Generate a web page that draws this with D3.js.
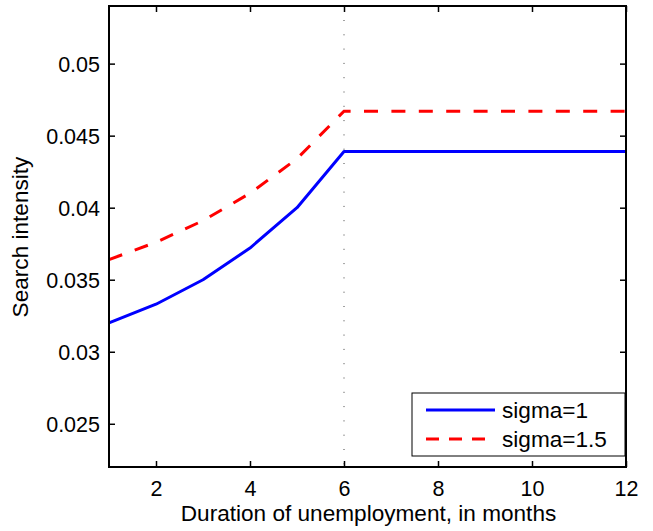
<!DOCTYPE html>
<html>
<head>
<meta charset="utf-8">
<script src="https://cdn.jsdelivr.net/npm/d3@7"></script>
<style>
  html, body { margin: 0; padding: 0; background: #fff; }
  svg { display: block; font-family: "Liberation Sans", Arial, Helvetica, sans-serif; }
</style>
</head>
<body>
<svg id="chart" width="653" height="531"></svg>
<script>
// Duration of unemployment (months)
const months = [1, 2, 3, 4, 5, 6, 7, 8, 9, 10, 11, 12];
// Search intensity by risk-aversion parameter
const sigma1  = [0.0320, 0.0333, 0.0350, 0.0372, 0.0400, 0.0439, 0.0439, 0.0439, 0.0439, 0.0439, 0.0439, 0.0439];
const sigma15 = [0.0364, 0.0376, 0.0391, 0.0410, 0.0434, 0.0467, 0.0467, 0.0467, 0.0467, 0.0467, 0.0467, 0.0467];
const seriesNames = ["sigma=1", "sigma=1.5"];
const xTicks = [2, 4, 6, 8, 10, 12];
const yTicks = [0.025, 0.03, 0.035, 0.04, 0.045, 0.05];
const benefitEnd = 6;

const svg = d3.select("#chart");
const L = 109, R = 626, T = 6, B = 467;

const x = d3.scaleLinear().domain([1, 12]).range([L, R]);
const y = d3.scaleLinear().domain([0.022, 0.054]).range([B, T]);

const tickFmt = d => String(+d.toFixed(3));

// Dotted marker where benefits expire
svg.append("line")
  .attr("x1", x(benefitEnd)).attr("x2", x(benefitEnd))
  .attr("y1", T + 14).attr("y2", B)
  .attr("stroke", "#444").attr("stroke-width", 1)
  .attr("stroke-dasharray", "1,13.3");

// Series
const line = d3.line().x((d, i) => x(months[i])).y(d => y(d));
svg.append("path").datum(sigma1)
  .attr("d", line).attr("fill", "none")
  .attr("stroke", "#0000ff").attr("stroke-width", 3)
  .attr("stroke-linejoin", "round");
svg.append("path").datum(sigma15)
  .attr("d", line).attr("fill", "none")
  .attr("stroke", "#ff0000").attr("stroke-width", 3)
  .attr("stroke-dasharray", "14,13.4");

// Axes with inward ticks on all four sides
const tickLen = 6;
const tickFont = 21.5;
const labelFont = 22.6;

const axBottom = svg.append("g").attr("transform", `translate(0,${B})`)
  .call(d3.axisBottom(x).tickValues(xTicks).tickSize(-tickLen).tickPadding(0).tickFormat(d3.format("d")));
axBottom.selectAll("text").attr("y", 29).attr("dy", null).attr("font-size", tickFont).attr("fill", "#000");

const axTop = svg.append("g").attr("transform", `translate(0,${T})`)
  .call(d3.axisTop(x).tickValues(xTicks).tickSize(-tickLen).tickFormat(""));

const axLeft = svg.append("g").attr("transform", `translate(${L},0)`)
  .call(d3.axisLeft(y).tickValues(yTicks).tickSize(-tickLen).tickFormat(tickFmt));
axLeft.selectAll("text").attr("x", -9).attr("dy", "0.35em").attr("font-size", tickFont).attr("fill", "#000");

const axRight = svg.append("g").attr("transform", `translate(${R},0)`)
  .call(d3.axisRight(y).tickValues(yTicks).tickSize(-tickLen).tickFormat(""));

[axBottom, axTop, axLeft, axRight].forEach(g => {
  g.select(".domain").remove();
  g.selectAll(".tick line").attr("stroke", "#000").attr("stroke-width", 1.5);
});

// Axes box
svg.append("rect")
  .attr("x", L).attr("y", T).attr("width", R - L).attr("height", B - T)
  .attr("fill", "none").attr("stroke", "#000").attr("stroke-width", 2);

// Axis titles
svg.append("text")
  .attr("x", 368.5).attr("y", 521)
  .attr("text-anchor", "middle").attr("font-size", labelFont)
  .text("Duration of unemployment, in months");
svg.append("text")
  .attr("transform", "translate(28,237) rotate(-90)")
  .attr("text-anchor", "middle").attr("font-size", labelFont)
  .text("Search intensity");

// Legend
const lg = svg.append("g");
lg.append("rect")
  .attr("x", 412).attr("y", 393).attr("width", 213).attr("height", 63)
  .attr("fill", "#fff").attr("stroke", "#000").attr("stroke-width", 1);
const legendRows = [
  { name: seriesNames[0], color: "#0000ff", dash: null, ly: 410 },
  { name: seriesNames[1], color: "#ff0000", dash: "13,10", ly: 439 }
];
legendRows.forEach(r => {
  lg.append("line")
    .attr("x1", 426).attr("x2", 495).attr("y1", r.ly).attr("y2", r.ly)
    .attr("stroke", r.color).attr("stroke-width", 3)
    .attr("stroke-dasharray", r.dash);
  lg.append("text")
    .attr("x", 502).attr("y", r.ly + 8)
    .attr("font-size", labelFont)
    .text(r.name);
});
</script>
</body>
</html>
